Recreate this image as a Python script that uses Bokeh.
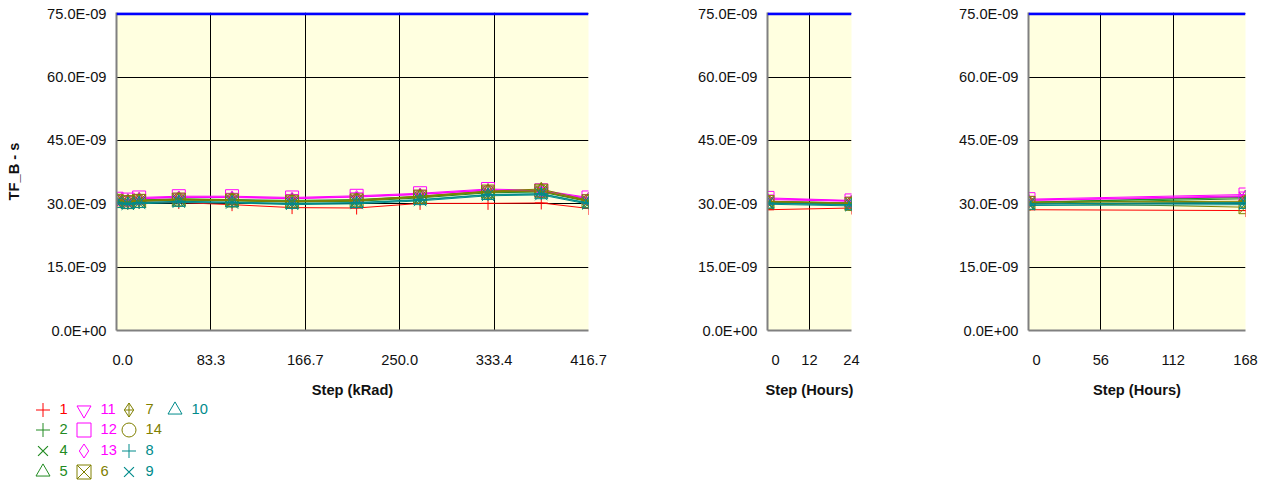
from bokeh.plotting import figure
from bokeh.layouts import row, column
from bokeh.models import (Range1d, FixedTicker, CustomJSTickFormatter, Span,
                          Legend, LegendItem)
from bokeh.embed import file_html
from bokeh.resources import INLINE

# ---------------- data ----------------
NS = 1e-9
series_ids = ["1", "2", "4", "5", "11", "12", "13", "6", "7", "14", "8", "9", "10"]
series_colors = ["#FF0000", "#228B22", "#228B22", "#228B22",
                 "#FF00FF", "#FF00FF", "#FF00FF",
                 "#808000", "#808000", "#808000",
                 "#008B8B", "#008B8B", "#008B8B"]
series_markers = ["cross", "cross", "x", "triangle",
                  "inverted_triangle", "square", "diamond",
                  "square_x", "diamond_cross", "circle",
                  "cross", "x", "triangle"]

# panel 1 : dose steps (kRad), TF_B in ns
dose_steps = [0, 10, 20, 55, 102, 155, 212, 268, 328, 375, 416.7]
dose_values = {
    "1":  [30.5, 30.2, 30.4, 30.3, 29.8, 29.1, 29.0, 30.1, 30.1, 30.2, 28.9],
    "2":  [30.8, 30.5, 30.8, 31.0, 30.9, 30.6, 30.8, 31.6, 32.8, 32.9, 30.7],
    "4":  [30.6, 30.3, 30.6, 30.9, 30.7, 30.4, 30.6, 31.4, 32.6, 32.8, 30.5],
    "5":  [30.9, 30.6, 30.9, 31.2, 31.0, 30.8, 31.0, 31.8, 33.0, 33.2, 30.9],
    "11": [31.0, 30.8, 31.3, 31.6, 31.6, 31.3, 31.7, 32.3, 33.3, 33.0, 31.3],
    "12": [31.2, 31.0, 31.5, 31.8, 31.8, 31.5, 31.9, 32.5, 33.5, 33.2, 31.5],
    "13": [31.0, 30.7, 31.2, 31.5, 31.5, 31.2, 31.6, 32.2, 33.2, 32.9, 31.2],
    "6":  [30.7, 30.4, 30.7, 31.0, 30.8, 30.5, 30.8, 31.7, 32.9, 33.1, 30.6],
    "7":  [30.8, 30.5, 30.8, 31.1, 30.9, 30.6, 30.9, 31.8, 33.0, 33.5, 30.8],
    "14": [30.6, 30.4, 30.6, 30.9, 30.8, 30.5, 30.7, 31.6, 32.8, 33.0, 30.6],
    "8":  [30.4, 30.1, 30.3, 30.6, 30.4, 30.1, 30.3, 31.0, 32.2, 32.4, 30.2],
    "9":  [30.3, 30.0, 30.2, 30.5, 30.3, 30.0, 30.2, 30.9, 32.1, 32.3, 30.1],
    "10": [30.0, 29.8, 30.0, 30.3, 30.2, 29.8, 30.0, 30.7, 31.9, 32.1, 29.9],
}

# panel 2 : 24 hour anneal
hour24_steps = [0, 24]
hour24_values = {
    "1": [28.6, 29.0], "2": [30.5, 30.1], "4": [30.3, 30.0], "5": [30.6, 30.2],
    "11": [31.2, 30.7], "12": [31.4, 30.8], "13": [31.0, 30.6],
    "6": [30.4, 30.0], "7": [30.6, 30.2], "14": [30.3, 29.9],
    "8": [30.2, 29.8], "9": [30.1, 29.7], "10": [29.9, 29.5],
}

# panel 3 : 168 hour anneal
hour168_steps = [0, 168]
hour168_values = {
    "1": [28.6, 28.4], "2": [30.3, 31.7], "4": [30.1, 31.2], "5": [30.4, 31.5],
    "11": [30.9, 31.9], "12": [31.1, 32.2], "13": [30.8, 31.7],
    "6": [30.2, 29.2], "7": [30.4, 30.6], "14": [30.0, 30.4],
    "8": [30.0, 30.3], "9": [29.9, 30.1], "10": [29.6, 29.8],
}

upper_limit = 75e-9
y_ticks = [0, 15e-9, 30e-9, 45e-9, 60e-9, 75e-9]
dose_max = 416.7
dose_ticks = [0, 83.34, 166.68, 250.02, 333.36, 416.7]
hour24_ticks = [0, 12, 24]
hour168_ticks = [0, 56, 112, 168]

FONT = "Liberation Sans"
FS = "11pt"
BG = "#FFFFE0"
GRAY = "#808080"
TXT = "#111111"
FRAME_H = 318
FRAME_TOP = 12
BOTTOM = 66
# the "x" marker draws smaller than the others at equal size
SIZE_SCALE = {"x": 1.35}

y_fmt = CustomJSTickFormatter(code="""
if (Math.abs(tick) < 1e-15) { return '0.0E+00'; }
return (tick*1e9).toFixed(1) + 'E-09';
""")


def make_panel(steps, values, x_end, x_ticks, x_code, x_title, frame_w,
               b_left, b_right, y_title=None):
    p = figure(frame_width=frame_w, frame_height=FRAME_H,
               x_range=Range1d(0, x_end), y_range=Range1d(0, upper_limit * 1.004),
               min_border_left=b_left, min_border_right=b_right,
               min_border_top=FRAME_TOP, min_border_bottom=BOTTOM,
               toolbar_location=None, output_backend="svg",
               background_fill_color=BG, border_fill_color="white",
               outline_line_color=None)
    for sid, col, mk in zip(series_ids, series_colors, series_markers):
        ys = [v * NS for v in values[sid]]
        p.line(steps, ys, line_color=col, line_width=1)
        p.scatter(steps, ys, marker=mk, size=13 * SIZE_SCALE.get(mk, 1.0),
                  line_color=col, fill_color=None, line_width=1)
    p.add_layout(Span(location=upper_limit, dimension="width",
                      line_color="#0000FF", line_width=3))

    p.xaxis.ticker = FixedTicker(ticks=x_ticks)
    p.xaxis.formatter = CustomJSTickFormatter(code=x_code)
    p.yaxis.ticker = FixedTicker(ticks=y_ticks)
    p.yaxis.formatter = y_fmt
    p.xgrid.ticker = FixedTicker(ticks=x_ticks)
    p.ygrid.ticker = FixedTicker(ticks=y_ticks)
    for g in (p.xgrid, p.ygrid):
        g.grid_line_color = "black"
        g.grid_line_width = 1
        g.grid_line_alpha = 1.0
    for ax in (p.xaxis, p.yaxis):
        ax.major_tick_out = 0
        ax.major_tick_in = 0
        ax.minor_tick_out = 0
        ax.minor_tick_in = 0
        ax.axis_line_color = GRAY
        ax.axis_line_width = 2
        ax.major_label_text_font = FONT
        ax.major_label_text_font_size = FS
        ax.major_label_text_color = TXT
        ax.axis_label_text_font = FONT
        ax.axis_label_text_font_size = FS
        ax.axis_label_text_font_style = "bold"
        ax.axis_label_text_color = TXT
    p.xaxis.major_label_standoff = 21
    p.xaxis.axis_label = x_title
    p.xaxis.axis_label_standoff = 11
    p.yaxis.major_label_standoff = 10
    if y_title:
        p.yaxis.axis_label = y_title
        p.yaxis.axis_label_standoff = 22
    return p


P1_LEFT, P1_FRAME_W, P1_RIGHT = 116, 472, 79
p1 = make_panel(dose_steps, dose_values, dose_max, dose_ticks,
                "if (tick == 0) { return '\\u2007\\u20080.0'; } return tick.toFixed(1);",
                "Step (kRad)", P1_FRAME_W, P1_LEFT, P1_RIGHT, y_title="TF_B - s")
p2 = make_panel(hour24_steps, hour24_values, 24, hour24_ticks,
                "if (tick == 0) { return '\\u2007\\u20070'; } return tick.toFixed(0);",
                "Step (Hours)", 84, 100, 77)
p3 = make_panel(hour168_steps, hour168_values, 168, hour168_ticks,
                "if (tick == 0) { return '\\u2007\\u20070'; } return tick.toFixed(0);",
                "Step (Hours)", 217, 100, 14)

# ---- legend strip under panel 1 (4 rows, filled column by column) ----
P1_W = P1_LEFT + P1_FRAME_W + P1_RIGHT
P1_H = FRAME_TOP + FRAME_H + BOTTOM
LEG_H = 484 - P1_H
leg_fig = figure(frame_width=P1_W, frame_height=LEG_H,
                 x_range=Range1d(0, 1), y_range=Range1d(0, 1),
                 min_border=0, toolbar_location=None, output_backend="svg",
                 x_axis_location=None, y_axis_location=None,
                 outline_line_color=None, background_fill_color="white",
                 border_fill_color="white")
leg_fig.grid.visible = False

col_centers = [42, 83, 128, 174]
row_centers = [405, 425, 446, 467]
GLY = 35
nan = float("nan")
for i, (sid, col, mk) in enumerate(zip(series_ids, series_colors, series_markers)):
    # legend key only: a renderer with no drawable point
    r_key = leg_fig.scatter(x=[nan], y=[nan], marker=mk, line_color=col,
                            fill_color=None, line_width=1.2 if mk == "x" else 1)
    c, r = i // 4, i % 4
    cx, cy = col_centers[c], row_centers[r] - P1_H
    lx = cx - GLY / 2
    ly = LEG_H - (cy + GLY / 2)
    leg = Legend(items=[LegendItem(label=sid, renderers=[r_key])],
                 location=(lx, ly), orientation="vertical",
                 padding=0, margin=0, spacing=0,
                 border_line_color=None, background_fill_alpha=0,
                 glyph_width=GLY, glyph_height=GLY, label_standoff=-8,
                 label_height=GLY, label_width=10,
                 label_text_font=FONT, label_text_font_size=FS,
                 label_text_color=col, label_text_baseline="middle")
    leg_fig.add_layout(leg)

layout = row(column(p1, leg_fig), p2, p3)
open("out.html", "w").write(file_html(layout, INLINE))
